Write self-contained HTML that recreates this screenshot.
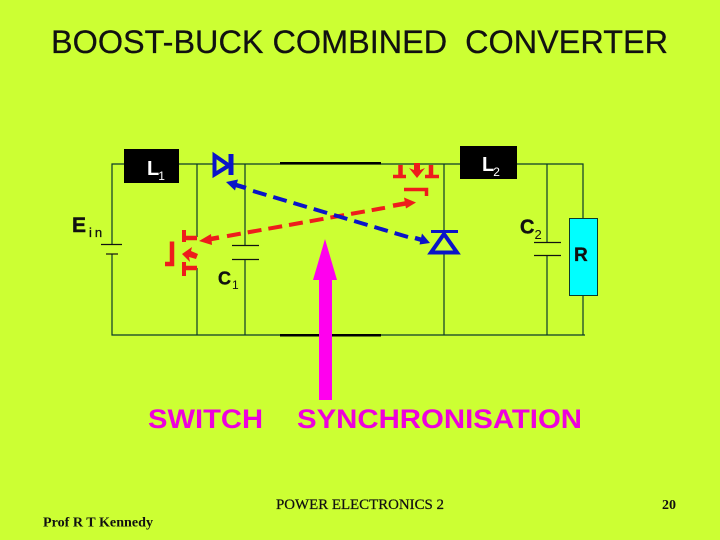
<!DOCTYPE html>
<html>
<head>
<meta charset="utf-8">
<style>
html,body{margin:0;padding:0;background:#ccff33;}
svg{display:block;}
text{white-space:pre;}
.s{font-family:"Liberation Sans",sans-serif;}
.r{font-family:"Liberation Serif",serif;}
</style>
</head>
<body>
<svg width="720" height="540" viewBox="0 0 720 540" xmlns="http://www.w3.org/2000/svg">
<rect width="720" height="540" fill="#ccff33"/>
<text class="s" x="51" y="53" font-size="32" textLength="617" lengthAdjust="spacingAndGlyphs" fill="#111" stroke="#111" stroke-width=".25">BOOST-BUCK COMBINED  CONVERTER</text>

<!-- wires -->
<g stroke="#0a3a2a" stroke-width="1.2" fill="none">
<path d="M112 244V164H124"/>
<path d="M112 254V335H585"/>
<path d="M179 164H213"/>
<path d="M231 164H460"/>
<path d="M517 164H583V218"/>
<path d="M583 295V335"/>
<path d="M197 164V237"/>
<path d="M197 268V335"/>
<path d="M245 164V245"/>
<path d="M245 259V335"/>
<path d="M444 164V231"/>
<path d="M444 254V335"/>
<path d="M547 164V242"/>
<path d="M547 255V335"/>
</g>
<g stroke="#111" stroke-width="1.2">
<path d="M101 244.5H122"/>
<path d="M106 254H118"/>
<path d="M232 245.500H259"/>
<path d="M232 259.500H259"/>
<path d="M534 242.500H561"/>
<path d="M534 255.500H561"/>
</g>
<rect x="280" y="162" width="101" height="2.500" fill="#000"/>
<rect x="280" y="334" width="101" height="2.500" fill="#000"/>

<!-- inductors -->
<rect x="124" y="149" width="55" height="34" fill="#000"/>
<rect x="460" y="146" width="57" height="33" fill="#000"/>
<text class="s" x="147" y="175" font-size="20" font-weight="bold" fill="#fff">L<tspan font-size="12" font-weight="normal" dy="5" dx="-1">1</tspan></text>
<text class="s" x="482" y="171" font-size="20" font-weight="bold" fill="#fff">L<tspan font-size="12" font-weight="normal" dy="5" dx="-1">2</tspan></text>

<!-- diodes -->
<g fill="none" stroke="#0a14c8" stroke-width="4">
<path d="M214.500 155.500L229 165.500L214.500 174.500Z"/>
<path d="M231 154V175" stroke-width="5"/>
<path d="M444 234L457 252.500H431Z"/>
<path d="M431 231.500H458" stroke-width="3"/>
</g>

<!-- lower-left MOSFET -->
<g fill="none" stroke="#ee1c1c">
<path d="M184 230V242" stroke-width="4"/>
<path d="M184 238H197" stroke-width="4.500"/>
<path d="M184 262V276" stroke-width="4"/>
<path d="M184 268H197" stroke-width="4.500"/>
<path d="M172 241.500V264H165" stroke-width="4.500"/>
</g>
<path d="M182 254L192 247L191 251L198 254L196 259L189 257L190 262Z" fill="#ee1c1c"/>

<!-- top MOSFET -->
<g fill="none" stroke="#ee1c1c">
<path d="M393 176.500H406" stroke-width="3.500"/>
<path d="M400.500 165V176" stroke-width="4.500"/>
<path d="M425 176.500H439" stroke-width="3.500"/>
<path d="M431 165V176" stroke-width="4.500"/>
<path d="M404 189.500H426.500V196" stroke-width="3.500"/>
</g>
<path d="M417 178L409 168L414 170L414 163H420L420 170L425 168Z" fill="#ee1c1c"/>

<!-- dashed red -->
<path d="M227 236.100L385 207.800" stroke="#ee1c1c" stroke-width="4" stroke-dasharray="14 7" fill="none"/>
<path d="M393 205.700L406 203.400" stroke="#ee1c1c" stroke-width="4.500" fill="none"/>
<path d="M416 202.500L404 197.500L406 208.500Z" fill="#ee1c1c"/>
<path d="M208 239.500L219 237.500" stroke="#ee1c1c" stroke-width="4.500" fill="none"/>
<path d="M199 241L211 234L212 245Z" fill="#ee1c1c"/>
<!-- dashed blue -->
<path d="M253 191L408 237" stroke="#0a14c8" stroke-width="4" stroke-dasharray="14 7.100" fill="none"/>
<path d="M236 185L246 188" stroke="#0a14c8" stroke-width="4.500" fill="none"/>
<path d="M226 182L238 179.500L235 190.500Z" fill="#0a14c8"/>
<path d="M415 238L422 240" stroke="#0a14c8" stroke-width="4.500" fill="none"/>
<path d="M430 243L419.500 244.500L422 233.500Z" fill="#0a14c8"/>

<!-- resistor -->
<rect x="569.500" y="218.500" width="28" height="77" fill="#00ffff" stroke="#0a3a2a" stroke-width="1"/>

<!-- labels -->
<text class="s" x="72" y="232" font-size="21" font-weight="bold" fill="#111" stroke="#111" stroke-width=".4">E</text>
<text class="s" x="89" y="237" font-size="13" fill="#111" letter-spacing="3" stroke="#111" stroke-width=".3">in</text>
<text class="s" x="218" y="284.500" font-size="18" font-weight="bold" fill="#111" stroke="#111" stroke-width=".4">C<tspan font-size="12" font-weight="normal" dy="4.500" dx="1" stroke="none">1</tspan></text>
<text class="s" x="520" y="233.500" font-size="20" font-weight="bold" fill="#111" stroke="#111" stroke-width=".4">C<tspan font-size="13" font-weight="normal" dy="5.500" stroke="none">2</tspan></text>
<text class="s" x="574" y="261" font-size="19" font-weight="bold" fill="#111" stroke="#111" stroke-width=".3">R</text>

<!-- pink arrow -->
<path d="M325 239L337 280H332V400H319V280H313Z" fill="#ff00ee"/>

<text class="s" x="148" y="428" font-size="27" font-weight="bold" textLength="115" lengthAdjust="spacingAndGlyphs" fill="#ee00dd">SWITCH</text>
<text class="s" x="297" y="428" font-size="27" font-weight="bold" textLength="285" lengthAdjust="spacingAndGlyphs" fill="#ee00dd">SYNCHRONISATION</text>

<text class="r" x="276" y="509" font-size="15" textLength="168" lengthAdjust="spacingAndGlyphs" fill="#111" stroke="#111" stroke-width=".25">POWER ELECTRONICS 2</text>
<text class="r" x="662" y="509" font-size="14" font-weight="bold" fill="#111">20</text>
<text class="r" x="43" y="526.500" font-size="14" font-weight="bold" textLength="110" lengthAdjust="spacingAndGlyphs" fill="#111">Prof R T Kennedy</text>
</svg>
</body>
</html>
